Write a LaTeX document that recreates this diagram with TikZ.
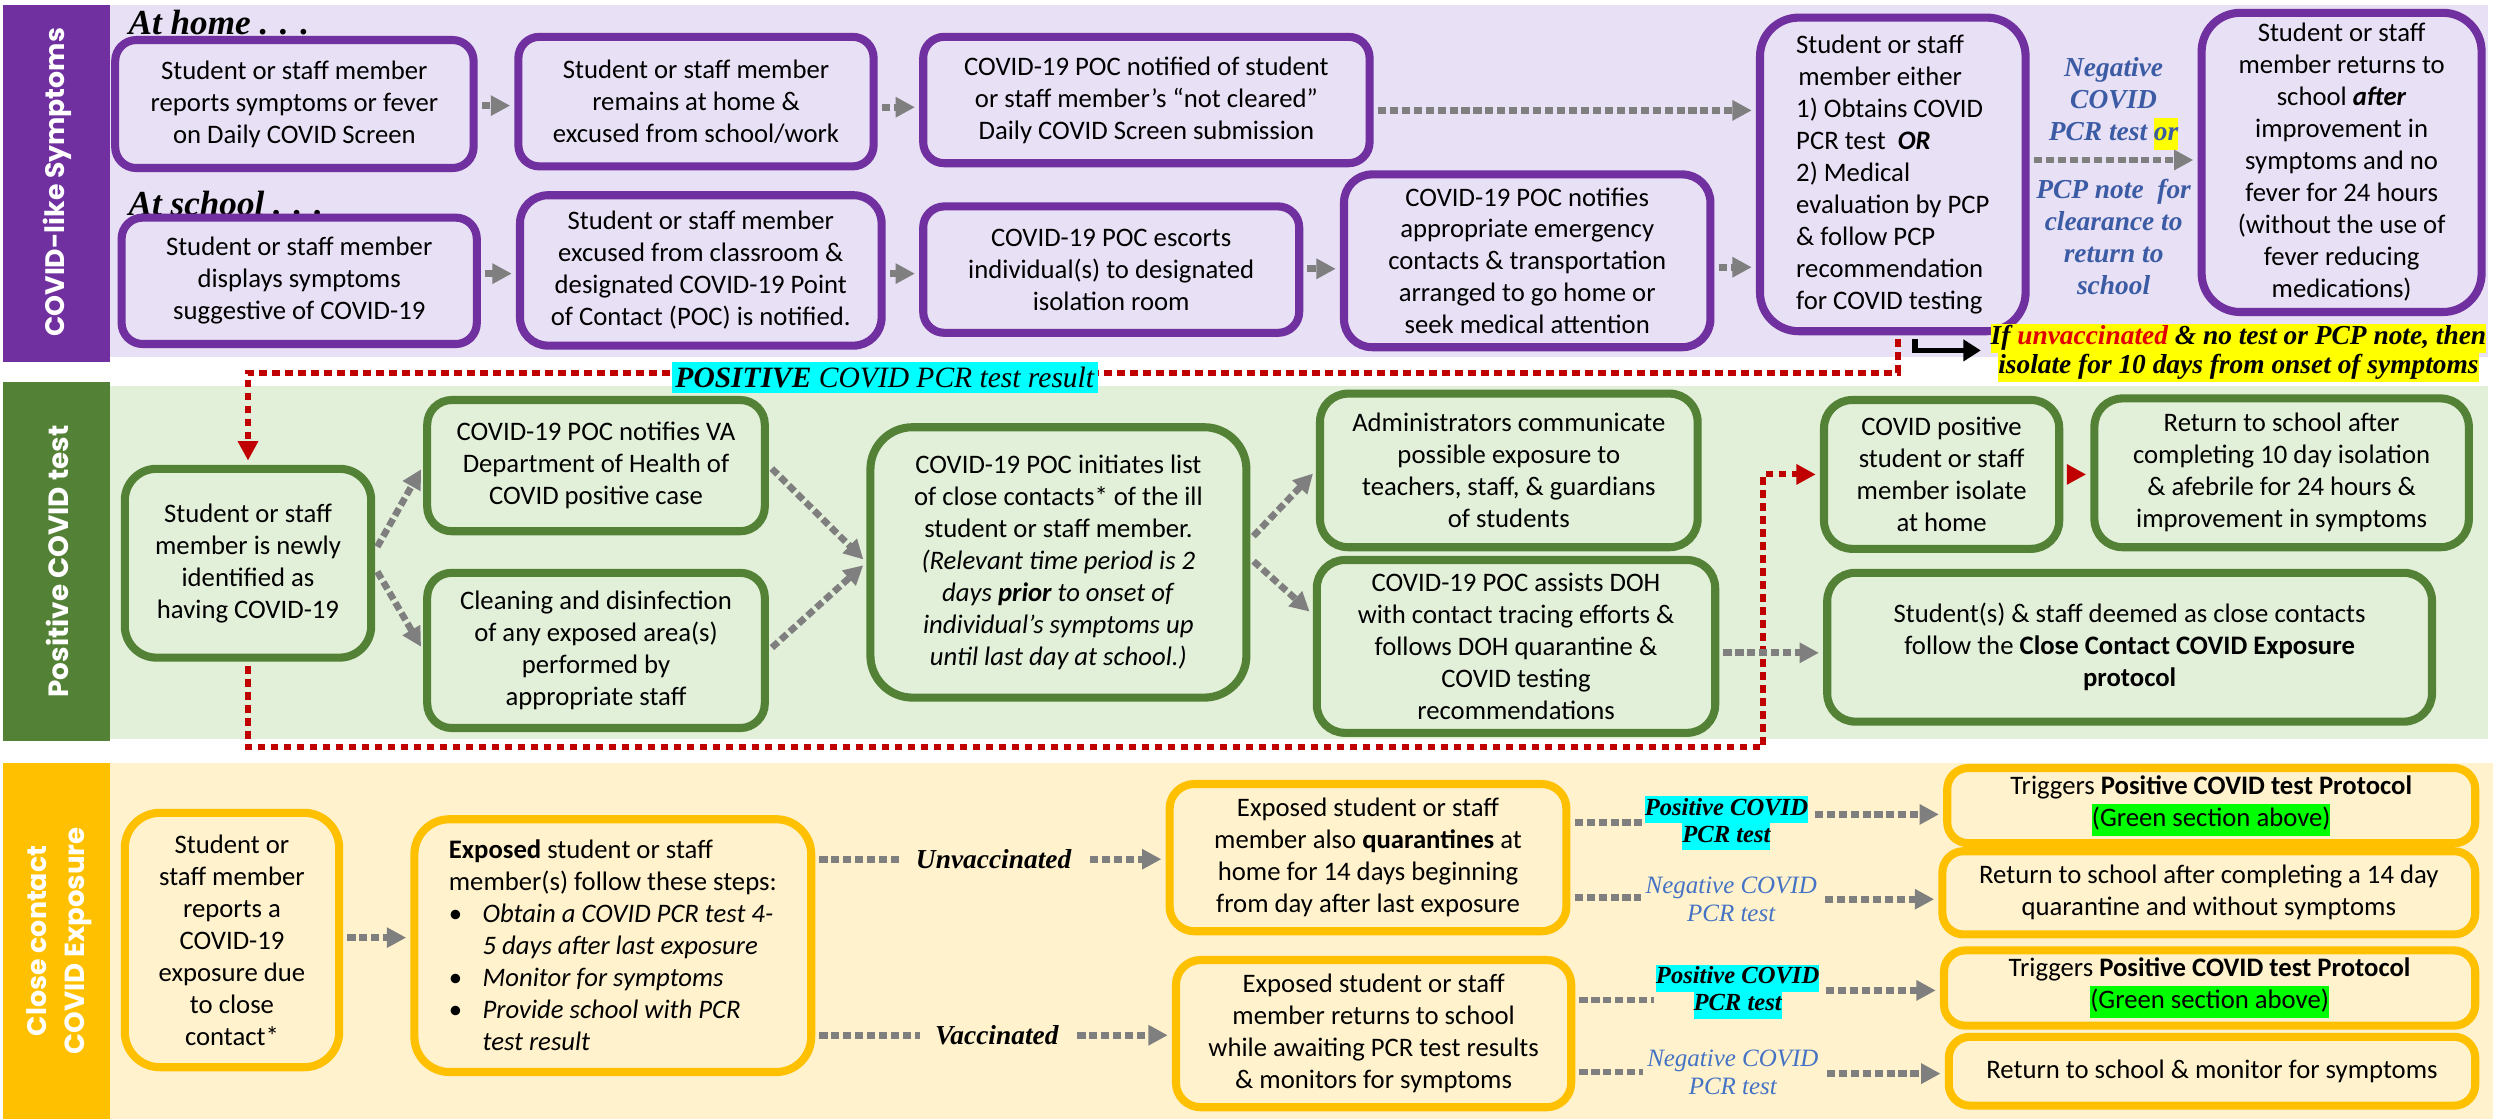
\documentclass[tikz,border=0pt]{standalone}
\usepackage{fontspec}
\usepackage{graphicx}
\setmainfont{Carlito}
\newfontfamily\srf{Liberation Serif}
\newfontfamily\bandfnt{Poppins}
\usetikzlibrary{arrows.meta,calc}
\definecolor{purp}{HTML}{7030A0}
\definecolor{lav}{HTML}{E8E0F4}
\definecolor{dgreen}{HTML}{538135}
\definecolor{lgreen}{HTML}{E2EFD9}
\definecolor{gold}{HTML}{FFC000}
\definecolor{lgold}{HTML}{FFF2CC}
\definecolor{agray}{HTML}{7F7F7F}
\definecolor{dred}{HTML}{C00000}
\definecolor{hcyan}{HTML}{00FFFF}
\definecolor{hyel}{HTML}{FFFF00}
\definecolor{hgreen}{HTML}{00FF00}
\definecolor{lblue}{HTML}{4472C4}
\definecolor{mblue}{HTML}{3B5BA5}
\definecolor{rtext}{HTML}{E00000}
\setlength{\fboxsep}{0pt}
\newcommand{\bfnt}{\fontsize{7.6}{9.1}\selectfont}
\newcommand{\hlb}[2]{\colorbox{#1}{\strut #2}}
\newcommand{\bx}[8]{\node[#6, rounded corners=#7, minimum width={(#4-#2)*0.016cm}, minimum height={(#5-#3)*0.016cm}] (#1) at ({(#2+#4)/2},{(#3+#5)/2}) {#8};}
\begin{document}
\begin{tikzpicture}[x=0.016cm, y=-0.016cm,
  pbox/.style={draw=purp, fill=lav, line width=2.3pt, align=center, font=\bfnt, inner sep=1pt},
  gbox/.style={draw=dgreen, fill=lgreen, line width=2.3pt, align=center, font=\bfnt, inner sep=1pt},
  ybox/.style={draw=gold, fill=lgold, line width=2.3pt, align=center, font=\bfnt, inner sep=1pt},
  gl/.style={draw=agray, line width=1.9pt, dash pattern=on 2.3pt off 1.1pt, shorten <=1.2pt},
  ga/.style={gl, shorten >=1.2pt, -{Triangle[length=5.5pt,width=5.5pt]}},
  ra/.style={draw=dred, line width=1.7pt, dash pattern=on 2.2pt off 1.5pt, shorten <=1.2pt, shorten >=1.2pt, -{Triangle[length=5.5pt,width=5.5pt]}},
  blk/.style={draw=black, line width=1.6pt, shorten <=1.2pt, -{Triangle[length=5pt,width=6pt]}},
  band/.style={rotate=90, text=white, inner sep=0pt},
  plab/.style={font={\fontsize{7}{7.7}\selectfont\srf\bfseries\itshape}, align=center, inner sep=0.5pt},
  nlab/.style={font={\fontsize{7.1}{7.9}\selectfont\srf\itshape}, text=lblue, align=center, inner sep=1pt},
  vlab/.style={font={\fontsize{7.8}{9}\selectfont\srf\bfseries\itshape}, inner xsep=4pt},
  hdr/.style={font={\fontsize{10}{12}\selectfont\srf\bfseries\itshape}, anchor=west, inner sep=0pt}
]
\useasboundingbox (0,0) rectangle (1560,699.375);
% bands
\fill[lav] (69,3) rectangle (1555,223);
\fill[purp] (2,3) rectangle (69,226);
\fill[lgreen] (69,241) rectangle (1555,462);
\fill[dgreen] (2,239) rectangle (69,463);
\fill[lgold] (69,477) rectangle (1558,699.375);
\fill[gold] (2,477) rectangle (69,699.375);
\node[band] (L1) at (36,114) {\resizebox{87.9pt}{!}{\bandfnt\bfseries COVID-like Symptoms}};
\node[band] (L2) at (36,351) {\resizebox{77.4pt}{!}{\bandfnt\bfseries Positive COVID test}};
\node[band] (L3a) at (23,588) {\resizebox{54.2pt}{!}{\bandfnt\bfseries Close contact}};
\node[band] (L3b) at (49,588) {\resizebox{64.7pt}{!}{\bandfnt\bfseries COVID Exposure}};
\node[hdr] (home) at (80,14) {At home . . .};
\node[hdr] (school) at (80,127) {At school . . .};
% purple boxes
\bx{B1}{72}{25}{296}{105}{pbox}{6pt}{Student or staff member\\reports symptoms or fever\\on Daily COVID Screen}
\bx{B2}{324}{23}{546}{104}{pbox}{6pt}{Student or staff member\\remains at home \&\\excused from school/work}
\bx{B3}{577}{23}{856}{102}{pbox}{6pt}{COVID-19 POC notified of student\\or staff member’s “not cleared”\\Daily COVID Screen submission}
\bx{B4}{1100}{11}{1266}{207}{pbox, align=left}{11pt}{\hfil Student or staff\\\hfil member either\\1) Obtains COVID\\PCR test\ \ \textbf{\textit{OR}}\\2) Medical\\evaluation by PCP\\\& follow PCP\\recommendation\\for COVID testing}
\bx{B5}{1376}{8}{1551}{195}{pbox}{11pt}{Student or staff\\member returns to\\school \textbf{\textit{after}}\\improvement in\\symptoms and no\\fever for 24 hours\\(without the use of\\fever reducing\\medications)}
\bx{C1}{76}{136}{298}{215}{pbox}{6pt}{Student or staff member\\displays symptoms\\suggestive of COVID-19}
\bx{C2}{325}{122}{551}{216}{pbox}{8pt}{Student or staff member\\excused from classroom \&\\designated COVID-19 Point\\of Contact (POC) is notified.}
\bx{C3}{577}{129}{812}{208}{pbox}{6pt}{COVID-19 POC escorts\\individual(s) to designated\\isolation room}
\bx{C4}{840}{109}{1069}{217}{pbox}{8pt}{COVID-19 POC notifies\\appropriate emergency\\contacts \& transportation\\arranged to go home or\\seek medical attention}
% green boxes
\bx{D1}{78}{293}{232}{411}{gbox}{9pt}{Student or staff\\member is newly\\identified as\\having COVID-19}
\bx{D2}{267}{250}{478}{332}{gbox}{7pt}{COVID-19 POC notifies VA\\Department of Health of\\COVID positive case}
\bx{D3}{267}{358}{478}{455}{gbox}{7pt}{Cleaning and disinfection\\of any exposed area(s)\\performed by\\appropriate staff}
\bx{D4}{544}{267}{779}{436}{gbox}{12pt}{COVID-19 POC initiates list\\of close contacts* of the ill\\student or staff member.\\\textit{(Relevant time period is 2}\\\textit{days \textbf{prior} to onset of}\\\textit{individual’s symptoms up}\\\textit{until last day at school.)}}
\bx{D5}{825}{246}{1061}{342}{gbox}{8pt}{Administrators communicate\\possible exposure to\\teachers, staff, \& guardians\\of students}
\bx{D6}{823}{350}{1072}{458}{gbox}{8pt}{COVID-19 POC assists DOH\\with contact tracing efforts \&\\follows DOH quarantine \&\\COVID testing\\recommendations}
\bx{D7}{1140}{250}{1287}{343}{gbox}{8pt}{COVID positive\\student or staff\\member isolate\\at home}
\bx{D8}{1309}{249}{1543}{342}{gbox}{8pt}{Return to school after\\completing 10 day isolation\\\& afebrile for 24 hours \&\\improvement in symptoms}
\bx{D9}{1142}{358}{1520}{451}{gbox}{8pt}{Student(s) \& staff deemed as close contacts\\follow the \textbf{Close Contact COVID Exposure}\\\textbf{protocol}}
% yellow boxes
\bx{E1}{78}{508}{212}{667}{ybox}{10pt}{Student or\\staff member\\reports a\\COVID-19\\exposure due\\to close\\contact*}
\bx{E2}{259}{512}{507}{670}{ybox, align=left}{10pt}{\hfil\textbf{Exposed} student or staff\\\hfil member(s) follow these steps:\\\makebox[9.6pt][l]{•}\textit{Obtain a COVID PCR test 4-}\\\hspace*{9.6pt}\textit{5 days after last exposure}\\\makebox[9.6pt][l]{•}\textit{Monitor for symptoms}\\\makebox[9.6pt][l]{•}\textit{Provide school with PCR}\\\hspace*{9.6pt}\textit{test result}}
\bx{E3}{731}{490}{979}{582}{ybox}{7pt}{Exposed student or staff\\member also \textbf{quarantines} at\\home for 14 days beginning\\from day after last exposure}
\bx{E4}{735}{600}{982}{692}{ybox}{7pt}{Exposed student or staff\\member returns to school\\while awaiting PCR test results\\\& monitors for symptoms}
\bx{F1}{1217}{480}{1547}{527}{ybox}{6pt}{Triggers \textbf{Positive COVID test Protocol}\\\hlb{hgreen}{(Green section above)}}
\bx{F2}{1214}{532}{1547}{584}{ybox}{6pt}{Return to school after completing a 14 day\\quarantine and without symptoms}
\bx{F3}{1215}{594}{1547}{641}{ybox}{6pt}{Triggers \textbf{Positive COVID test Protocol}\\\hlb{hgreen}{(Green section above)}}
\bx{F4}{1218}{648}{1547}{691}{ybox}{6pt}{Return to school \& monitor for symptoms}
% label nodes
\node[font={\fontsize{7.8}{9.1}\selectfont\srf\bfseries\itshape}, text=mblue, align=center, inner sep=0pt] (neg0) at (1321,65) {Negative\\COVID\\PCR test \hlb{hyel}{or}};
\node[font={\fontsize{7.8}{9.1}\selectfont\srf\bfseries\itshape}, text=mblue, align=center, inner sep=0pt] (pcp) at (1321,148) {PCP note\ \ for\\clearance to\\return to\\school};
\node[vlab] (unv) at (621,537) {Unvaccinated};
\node[vlab] (vac) at (623,647) {Vaccinated};
\node[plab] (P1) at (1079,514.5) {\hlb{hcyan}{Positive COVID}\\\hlb{hcyan}{PCR test}};
\node[nlab] (N1) at (1082,562) {Negative COVID\\PCR test};
\node[plab] (P2) at (1086,620) {\hlb{hcyan}{Positive COVID}\\\hlb{hcyan}{PCR test}};
\node[nlab] (N2) at (1083,670) {Negative COVID\\PCR test};
% coordinates
\coordinate (y66) at (0,66);
\coordinate (y67) at (0,67);
\coordinate (y69) at (0,69);
\coordinate (y171) at (0,171);
\coordinate (y168) at (0,168);
\coordinate (y167) at (0,167);
\coordinate (y100) at (0,100);
\coordinate (y344) at (0,344);
\coordinate (y355) at (0,355);
\coordinate (y337) at (0,337);
\coordinate (y349) at (0,349);
\coordinate (y384) at (0,384);
\coordinate (y408) at (0,408);
\coordinate (y586) at (0,586);
\coordinate (y514) at (0,514);
\coordinate (y509) at (0,509);
\coordinate (y561) at (0,561);
\coordinate (y562) at (0,562);
\coordinate (y625) at (0,625);
\coordinate (y619) at (0,619);
\coordinate (y670) at (0,670);
\coordinate (y671) at (0,671);
\coordinate (r1) at (1186,233);
\coordinate (r2) at (1102,467);
\coordinate (k0) at (1197,219);
\coordinate (k1) at (1238,219);
% connectors purple
\draw[ga] (B1.east |- y66) -- (B2.west |- y66);
\draw[ga] (B2.east |- y67) -- (B3.west |- y67);
\draw[ga] (B3.east |- y69) -- (B4.west |- y69);
\draw[ga] (C1.east |- y171) -- (C2.west |- y171);
\draw[ga] (C2.east |- y171) -- (C3.west |- y171);
\draw[ga] (C3.east |- y168) -- (C4.west |- y168);
\draw[ga] (C4.east |- y167) -- (B4.west |- y167);
\draw[ga] (B4.east |- y100) -- (B5.west |- y100);
\draw[blk] (B4.south -| k0) -- (k0) -- (k1);
% red connectors
\draw[ra] (B4.south -| r1) -- (r1) -- (r1 -| D1.north) -- (D1.north);
\draw[ra] (D1.south) -- (D1.south |- r2) -- (r2) -- (r2 |- D7.west) -- (D7.west);
\draw[ra] (D7.east) -- (D7.east -| D8.west);
% green connectors
\draw[ga] (D1.east |- y344) -- (D2.west);
\draw[ga] (D1.east |- y355) -- (D3.west);
\draw[ga] (D2.east) -- (D4.west);
\draw[ga] (D3.east) -- (D4.west);
\draw[ga] (D4.east |- y337) -- (D5.west);
\draw[ga] (D4.east |- y349) -- (D6.west |- y384);
\draw[ga] (D6.east |- y408) -- (D9.west |- y408);
% yellow connectors
\draw[ga] (E1.east |- y586) -- (E2.west |- y586);
\draw[gl] (E2.east |- unv) -- (unv.west);
\draw[ga] (unv.east) -- (E3.west |- unv);
\draw[gl] (E2.east |- vac) -- (vac.west);
\draw[ga] (vac.east) -- (E4.west |- vac);
\draw[gl] (E3.east |- y514) -- (P1.west |- y514);
\draw[ga] (P1.east |- y509) -- (F1.west |- y509);
\draw[gl] (E3.east |- y561) -- (N1.west |- y561);
\draw[ga] (N1.east |- y562) -- (F2.west |- y562);
\draw[gl] (E4.east |- y625) -- (P2.west |- y625);
\draw[ga] (P2.east |- y619) -- (F3.west |- y619);
\draw[gl] (E4.east |- y670) -- (N2.west |- y670);
\draw[ga] (N2.east |- y671) -- (F4.west |- y671);
% top labels over lines
\node[fill=hcyan, inner xsep=1pt, inner ysep=1.5pt, font={\fontsize{8.4}{10}\selectfont\srf\itshape}] (pos) at (553,236) {\textbf{POSITIVE} COVID PCR test result};
\node[font={\fontsize{7.8}{8.3}\selectfont\srf\bfseries\itshape}, align=center, inner sep=0pt] (ifl) at (1399,220.5) {\hlb{hyel}{If \textcolor{rtext}{unvaccinated} \& no test or PCP note, then}\\\hlb{hyel}{isolate for 10 days from onset of symptoms}};
\end{tikzpicture}
\end{document}
